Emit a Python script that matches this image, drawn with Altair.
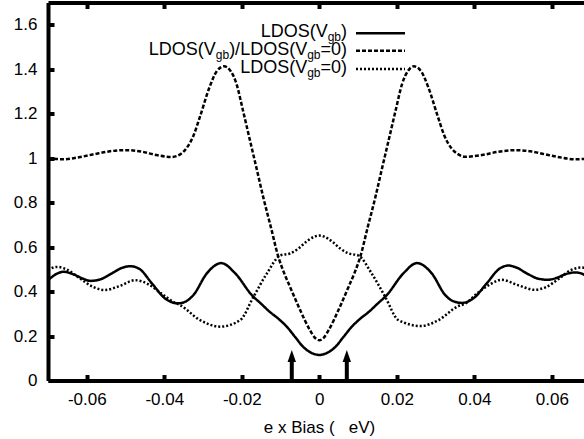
import altair as alt
import pandas as pd

# ---------------- data ----------------
bias_vgb = [-0.070, -0.0675, -0.066, -0.0635, -0.061, -0.059, -0.0565, -0.0535, -0.051, -0.0488,
            -0.0465, -0.0432, -0.0398, -0.0364, -0.0345, -0.0325, -0.029, -0.0253, -0.0217, -0.0174,
            -0.015, -0.0128, -0.0105, -0.0085, -0.0062, -0.0042, -0.002, 0.0,
            0.002, 0.0042, 0.0062, 0.0085, 0.0105, 0.0128, 0.015, 0.0174, 0.0217, 0.0252,
            0.029, 0.0325, 0.0345, 0.0368, 0.0398, 0.0432, 0.0465, 0.0488, 0.051, 0.0535,
            0.0565, 0.059, 0.061, 0.0635, 0.066, 0.0675, 0.070]
ldos_vgb = [0.451, 0.482, 0.489, 0.478, 0.458, 0.448, 0.455, 0.482, 0.506, 0.514,
            0.503, 0.437, 0.369, 0.347, 0.355, 0.384, 0.482, 0.528, 0.482, 0.384,
            0.345, 0.309, 0.277, 0.244, 0.195, 0.152, 0.124, 0.115,
            0.124, 0.152, 0.195, 0.244, 0.277, 0.309, 0.345, 0.384, 0.482, 0.528,
            0.482, 0.384, 0.357, 0.349, 0.370, 0.437, 0.503, 0.517, 0.507, 0.482,
            0.458, 0.453, 0.460, 0.478, 0.486, 0.482, 0.455]

bias_ratio = [-0.070, -0.066, -0.062, -0.058, -0.054, -0.0498, -0.046, -0.042, -0.0381, -0.0358,
              -0.0343, -0.0325, -0.0308, -0.0283, -0.0265, -0.0246, -0.0228, -0.0214, -0.0197, -0.0179,
              -0.0162, -0.0145, -0.0125, -0.0106, -0.009, -0.0076, -0.005, -0.0025, -0.001, 0.0,
              0.001, 0.0025, 0.005, 0.0076, 0.009, 0.0106, 0.0125, 0.0145, 0.0162, 0.0179,
              0.0197, 0.0214, 0.0228, 0.0244, 0.0263, 0.0281, 0.0306, 0.0323, 0.0341, 0.0358,
              0.0376, 0.042, 0.046, 0.0505, 0.0545, 0.058, 0.062, 0.066, 0.070]
ldos_ratio = [0.999, 0.995, 1.004, 1.018, 1.031, 1.036, 1.030, 1.014, 1.005, 1.018,
              1.044, 1.100, 1.186, 1.320, 1.390, 1.413, 1.390, 1.336, 1.215, 1.081,
              0.955, 0.827, 0.690, 0.558, 0.480, 0.423, 0.319, 0.229, 0.190, 0.181,
              0.190, 0.229, 0.319, 0.423, 0.480, 0.558, 0.690, 0.827, 0.955, 1.081,
              1.215, 1.336, 1.390, 1.413, 1.390, 1.320, 1.186, 1.100, 1.044, 1.018,
              1.006, 1.014, 1.028, 1.036, 1.031, 1.018, 1.004, 0.995, 0.999]

bias_zero = [-0.070, -0.0677, -0.065, -0.062, -0.0585, -0.0553, -0.0515, -0.0475, -0.044, -0.0405,
             -0.0375, -0.0359, -0.0308, -0.0256, -0.0204, -0.017, -0.0135, -0.0101, -0.0075, -0.0055,
             -0.0035, -0.0015, 0.0,
             0.0015, 0.0035, 0.0055, 0.0075, 0.0101, 0.0135, 0.017, 0.0204, 0.0262, 0.0308,
             0.0359, 0.0376, 0.0405, 0.044, 0.047, 0.0515, 0.0555, 0.0585, 0.062, 0.065,
             0.0677, 0.070]
ldos_zero = [0.497, 0.511, 0.498, 0.462, 0.422, 0.407, 0.425, 0.451, 0.432, 0.388,
             0.352, 0.339, 0.272, 0.242, 0.272, 0.376, 0.482, 0.562, 0.572, 0.592,
             0.622, 0.645, 0.652,
             0.645, 0.622, 0.592, 0.572, 0.562, 0.482, 0.376, 0.272, 0.245, 0.272,
             0.335, 0.345, 0.388, 0.432, 0.453, 0.427, 0.408, 0.420, 0.460, 0.497,
             0.508, 0.497]

arrow_bias = [-0.0071, 0.0071]
arrow_shaft_top = [0.09, 0.09]
arrow_head_mid = [0.11, 0.11]

series_names = ["LDOS(Vgb)", "LDOS(Vgb)/LDOS(Vgb=0)", "LDOS(Vgb=0)"]
x_ticks = [-0.06, -0.04, -0.02, 0, 0.02, 0.04, 0.06]
y_ticks = [0, 0.2, 0.4, 0.6, 0.8, 1, 1.2, 1.4, 1.6]
x_title = "e x Bias (\u00a0\u00a0\u00a0eV)"

# legend rows: (text, is_subscript)
legend_rows = [
    [("LDOS(V", False), ("gb", True), (")", False)],
    [("LDOS(V", False), ("gb", True), (")/LDOS(V", False), ("gb", True), ("=0)", False)],
    [("LDOS(V", False), ("gb", True), ("=0)", False)],
]

# ---------------- styling ----------------
FONT = "Liberation Sans"
W, H = 536, 378
X_DOMAIN = [-0.07, 0.0683]
Y_DOMAIN = [0, 1.7]
dash_range = [[1, 0], [4, 2], [2, 2]]
label_expr = "'' + datum.value"

df = pd.concat([
    pd.DataFrame({"bias": bias_vgb, "ldos": ldos_vgb, "series": series_names[0]}),
    pd.DataFrame({"bias": bias_ratio, "ldos": ldos_ratio, "series": series_names[1]}),
    pd.DataFrame({"bias": bias_zero, "ldos": ldos_zero, "series": series_names[2]}),
])
df_arrow = pd.DataFrame({"bias": arrow_bias, "y0": [0, 0], "y1": arrow_shaft_top, "yh": arrow_head_mid})

xscale = alt.Scale(domain=X_DOMAIN, nice=False, zero=False)
yscale = alt.Scale(domain=Y_DOMAIN, nice=False, zero=False)
dash_scale = alt.Scale(domain=series_names, range=dash_range)

lines = alt.Chart(df).mark_line(strokeWidth=2.5, interpolate="monotone", clip=True, color="black").encode(
    x=alt.X("bias:Q", scale=xscale, axis=alt.Axis(
        orient="bottom", values=x_ticks, labelExpr=label_expr, ticks=False, tickSize=0,
        domainWidth=4, domainColor="black", grid=False, labelFont=FONT, labelFontSize=17,
        labelColor="black", labelPadding=11, labelFlush=False, labelOverlap=False,
        title=x_title, titleFont=FONT, titleFontSize=17, titleFontWeight="normal",
        titleColor="black", titleX=271, titleY=52, titleBaseline="alphabetic")),
    y=alt.Y("ldos:Q", scale=yscale, axis=alt.Axis(
        orient="left", values=y_ticks, labelExpr=label_expr, ticks=False, tickSize=0,
        domainWidth=4, domainColor="black", grid=False, labelFont=FONT, labelFontSize=17,
        labelColor="black", labelPadding=11, labelFlush=False, labelOverlap=False, title=None)),
    strokeDash=alt.StrokeDash("series:N", scale=dash_scale, legend=None),
    detail="series:N",
)

shafts = alt.Chart(df_arrow).mark_rule(strokeWidth=4, color="black").encode(
    x=alt.X("bias:Q", scale=xscale, axis=alt.Axis(
        orient="top", offset=-H, values=x_ticks, labels=False, domain=False, ticks=True,
        tickSize=6, tickWidth=4, tickColor="black", grid=False, title=None)),
    y=alt.Y("y0:Q", scale=yscale, axis=alt.Axis(
        orient="right", offset=-W, values=y_ticks, labels=False, domain=False, ticks=True,
        tickSize=6, tickWidth=4, tickColor="black", grid=False, title=None)),
    y2="y1:Q",
)

heads = alt.Chart(df_arrow).mark_point(
    shape="M -0.7 1 L 0.7 1 L 0 -1 Z", size=144, filled=True, color="black", opacity=1
).encode(
    x=alt.X("bias:Q", scale=xscale, axis=alt.Axis(
        orient="bottom", offset=-H, values=x_ticks, labels=False, domain=True,
        domainWidth=4, domainColor="black", ticks=True, tickSize=6, tickWidth=4,
        tickColor="black", grid=False, title=None)),
    y=alt.Y("yh:Q", scale=yscale, axis=None),
)

# ---------------- legend (text with subscripts + line samples) ----------------
CHAR_W = {'L': 556, 'D': 722, 'O': 778, 'S': 667, '(': 333, ')': 333, 'V': 667,
          '/': 278, '=': 584, '0': 556, 'g': 556, 'b': 556}
MAIN_FS, SUB_FS = 18, 12
RIGHT_X = 299
BASELINES = [34.5, 52.5, 70]
SAMPLE_Y = [30.8, 48.2, 66.5]
SAMPLE_X = (308, 357)

dummy = alt.Data(values=[{}])
legend_layers = []
for row, base in zip(legend_rows, BASELINES):
    widths = [sum(CHAR_W[c] for c in t) * (SUB_FS if sub else MAIN_FS) / 1000 for t, sub in row]
    x = RIGHT_X - sum(widths)
    for (t, sub), w in zip(row, widths):
        legend_layers.append(
            alt.Chart(dummy).mark_text(
                text=t, align="left", baseline="alphabetic", font=FONT,
                fontSize=SUB_FS if sub else MAIN_FS, color="black"
            ).encode(x=alt.value(x), y=alt.value(base + (4 if sub else 0)))
        )
        x += w

for name, sy, dash in zip(series_names, SAMPLE_Y, dash_range):
    legend_layers.append(
        alt.Chart(dummy).mark_rule(strokeWidth=2.5, color="black", strokeDash=dash).encode(
            x=alt.value(SAMPLE_X[0]), x2=alt.value(SAMPLE_X[1]), y=alt.value(sy)
        )
    )

chart = alt.layer(lines, shafts, heads, *legend_layers).resolve_axis(
    x="independent", y="independent"
).properties(
    width=W, height=H,
    autosize=alt.AutoSizeParams(type="none"),
    padding={"left": 48, "top": 2.5, "right": 0, "bottom": 58.5},
    background="white",
).configure_view(stroke=None)

chart.save("out.html", embed_options={"renderer": "svg", "actions": False})
